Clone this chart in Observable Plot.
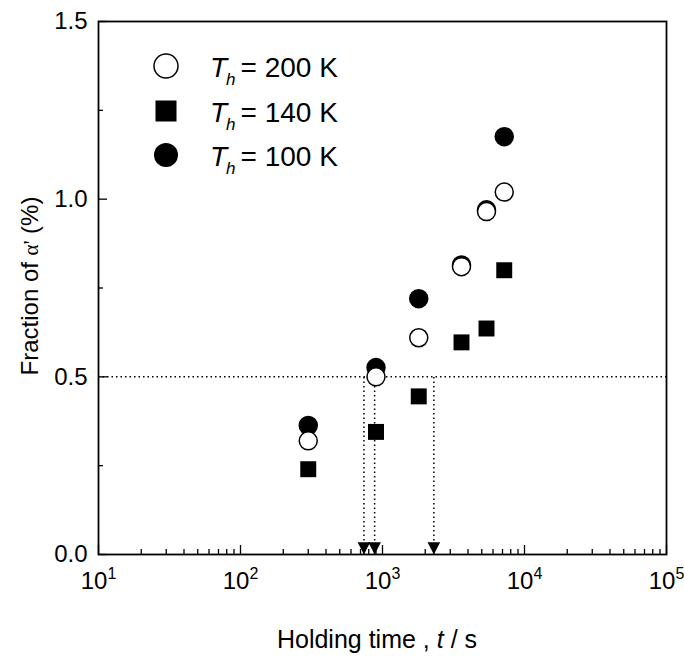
<!DOCTYPE html>
<html>
<head>
<meta charset="utf-8">
<script src="https://cdn.jsdelivr.net/npm/d3@7"></script>
<script src="https://cdn.jsdelivr.net/npm/@observablehq/plot@0.6"></script>
<style>
  body { margin: 0; background: #fff; }
  #chart { width: 684px; height: 657px; }
  #chart svg { font-family: "Liberation Sans", Arial, sans-serif; }
</style>
</head>
<body>
<div id="chart"></div>
<script>
// Holding times (s) and fraction of α' (%) for each holding temperature
const holdTimes = [300, 900, 1800, 3600, 5400, 7200];
const frac200 = [0.32, 0.50, 0.61, 0.81, 0.965, 1.02];
const frac140 = [0.24, 0.345, 0.445, 0.597, 0.636, 0.80];
const frac100 = [0.363, 0.526, 0.72, 0.815, 0.97, 1.176];
const seriesTemps = ["200 K", "140 K", "100 K"];

// Times at which each series reaches 0.5 %
const halfLevel = 0.5;
const halfTimes = [740, 880, 2300];

// Axis ticks
const xDecades = [10, 100, 1000, 10000, 100000];
const xExponents = ["1", "2", "3", "4", "5"];
const xMinor = [10, 100, 1000, 10000].flatMap(d => [2, 3, 4, 5, 6, 7, 8, 9].map(k => k * d));
const yTicks = [0, 0.5, 1.0, 1.5];
const yMinor = [0.25, 0.75, 1.25];

const rows = (ys) => holdTimes.map((t, i) => ({t, f: ys[i]}));

// Downward arrowhead with its tip at the anchor point
const arrowHead = {
  draw(ctx, size) {
    const r = Math.sqrt(size / Math.PI);
    const w = r * 0.7, h = r * 1.35;
    ctx.moveTo(-w, -h);
    ctx.lineTo(w, -h);
    ctx.lineTo(0, 0);
    ctx.closePath();
  }
};

const dotted = {stroke: "#000", strokeWidth: 1.5, strokeDasharray: "1.5,3"};
const tickOnly = {tickFormat: () => "", label: null, strokeWidth: 1.3};

const chart = Plot.plot({
  width: 684,
  height: 657,
  marginLeft: 98,
  marginRight: 18,
  marginTop: 21,
  marginBottom: 103,
  x: {type: "log", domain: [10, 1e5]},
  y: {domain: [0, 1.5]},
  style: {fontFamily: '"Liberation Sans", Arial, sans-serif', color: "#000", background: "#fff"},
  marks: [
    // guide lines for the 0.5 % level
    Plot.ruleY([halfLevel], dotted),
    Plot.ruleX(halfTimes, {x: d => d, y1: 0, y2: halfLevel, ...dotted}),
    Plot.dot(halfTimes, {x: d => d, y: 0, symbol: arrowHead, r: 9, fill: "#000", stroke: "none"}),

    // inward ticks
    Plot.axisX(xMinor, {tickSize: -5, ...tickOnly}),
    Plot.axisX(xDecades, {tickSize: -9, ...tickOnly}),
    Plot.axisY(yMinor, {tickSize: -5, ...tickOnly}),
    Plot.axisY(yTicks, {tickSize: -9, ...tickOnly}),

    // tick labels
    Plot.axisX(xDecades, {tickSize: 0, tickPadding: 17, tickFormat: () => "10", fontSize: 24, className: "xlabels", label: null}),
    Plot.axisY(yTicks, {tickSize: 0, tickPadding: 11, tickFormat: d3.format(".1f"), fontSize: 24, label: null}),

    // data
    Plot.dot(rows(frac100), {x: "t", y: "f", r: 9, symbol: "circle", fill: "#000", stroke: "#000"}),
    Plot.dot(rows(frac200), {x: "t", y: "f", r: 9, symbol: "circle", fill: "#fff", stroke: "#000", strokeWidth: 1.5}),
    Plot.dot(rows(frac140), {x: "t", y: "f", r: 9, symbol: "square", fill: "#000", stroke: "none"}),

    Plot.frame({stroke: "#000", strokeWidth: 1.8})
  ]
});

document.getElementById("chart").appendChild(chart);

const svg = d3.select(chart);

// superscript exponents on the decade labels
svg.selectAll(".xlabels text").each(function (d, i) {
  d3.select(this).append("tspan")
    .attr("font-size", 16)
    .attr("dy", "-0.6em")
    .text(xExponents[i]);
});

// axis titles
const xTitle = svg.append("text")
  .attr("x", 377).attr("y", 648)
  .attr("text-anchor", "middle")
  .attr("font-size", 25)
  .attr("fill", "#000");
xTitle.append("tspan").text("Holding time , ");
xTitle.append("tspan").attr("font-style", "italic").text("t");
xTitle.append("tspan").text(" / s");

const yTitle = svg.append("text")
  .attr("transform", "translate(38,286) rotate(-90)")
  .attr("text-anchor", "middle")
  .attr("font-size", 24)
  .attr("fill", "#000");
yTitle.append("tspan").text("Fraction of ");
yTitle.append("tspan").attr("font-family", '"Liberation Serif", serif').attr("font-size", 21).text("α'");
yTitle.append("tspan").text(" (%)");

// legend
const legend = svg.append("g").attr("fill", "#000").attr("text-anchor", "start");
const legendRowY = [66, 111, 155];
const legendSymbols = [
  g => g.append("circle").attr("r", 12).attr("fill", "#fff").attr("stroke", "#000").attr("stroke-width", 1.5),
  g => g.append("rect").attr("x", -10.5).attr("y", -10.5).attr("width", 21).attr("height", 21).attr("fill", "#000"),
  g => g.append("circle").attr("r", 12).attr("fill", "#000")
];
seriesTemps.forEach((temp, i) => {
  const row = legend.append("g").attr("transform", `translate(0,${legendRowY[i]})`);
  legendSymbols[i](row.append("g").attr("transform", "translate(166,0)"));
  const label = row.append("text").attr("x", 210).attr("y", 11).attr("font-size", 28).attr("text-anchor", "start");
  label.append("tspan").attr("font-style", "italic").text("T");
  label.append("tspan").attr("font-style", "italic").attr("font-size", 17).attr("dx", -1).attr("dy", 8).text("h");
  label.append("tspan").attr("dx", 5).attr("dy", -8).text("= " + temp);
});
</script>
</body>
</html>
